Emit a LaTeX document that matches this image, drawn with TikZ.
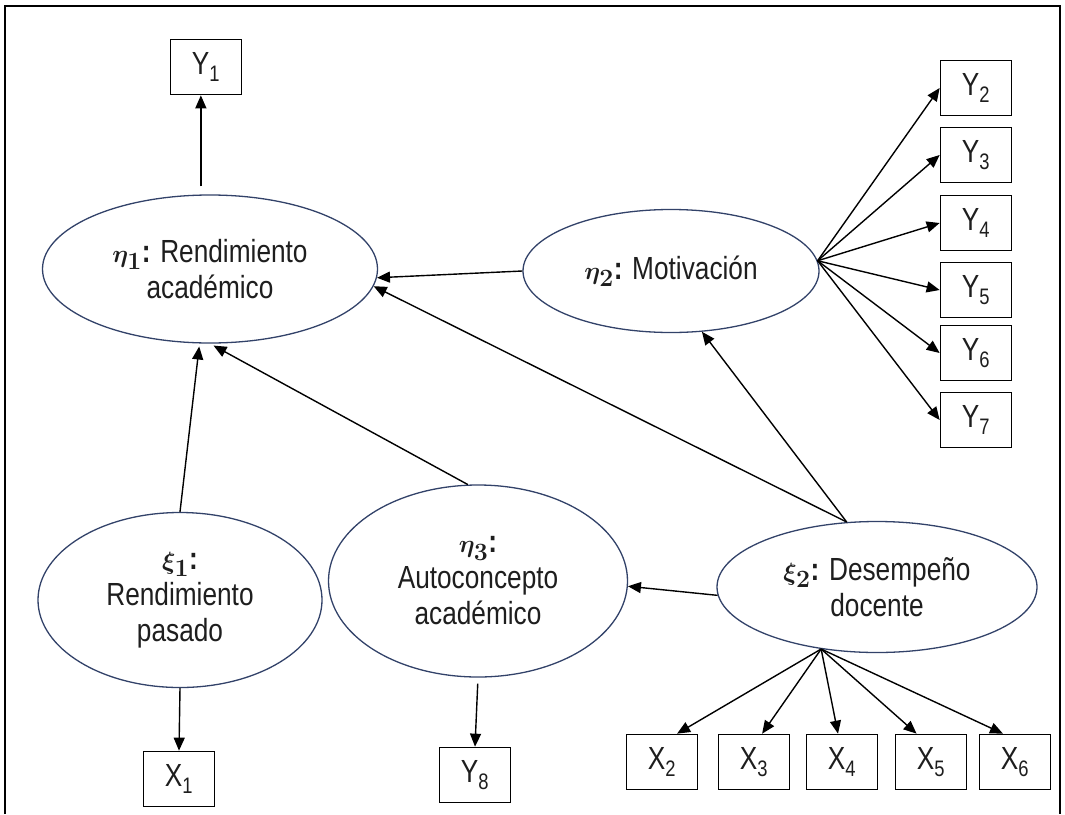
\documentclass[tikz,border=0pt]{standalone}
\usepackage{fontspec}
\setmainfont{Liberation Sans}[FakeStretch=0.82]
\usepackage{amsmath,bm}
\usetikzlibrary{shapes.geometric,arrows.meta}
\definecolor{ellline}{RGB}{50,66,105}
\definecolor{labtext}{RGB}{30,30,30}
\newcommand{\lvar}[2]{{\fontsize{38}{36}\selectfont$\bm{#1_{#2}}$}\textbf{:}}

\begin{document}
\begin{tikzpicture}[x=1pt,y=-1pt,
  font=\fontsize{32}{36}\selectfont,
  latent/.style={draw=ellline,line width=1.3pt,ellipse,inner sep=0pt,align=center,text=labtext},
  obs/.style={draw,line width=1.7pt,rectangle,minimum width=71pt,minimum height=55pt,inner sep=0pt,text=labtext},
  arr/.style={-{Triangle[length=13pt,width=11pt]},line width=1.4pt}]
\useasboundingbox (0,0) rectangle (1065,814);
\draw[line width=1.4pt] (5,814) -- (5,6) -- (1060,6) -- (1060,814);
% latent variables
\node[latent,minimum width=335pt,minimum height=148pt] (eta1) at (210,269) {\lvar{\eta}{1} Rendimiento\\acad\'emico};
\node[latent,minimum width=296pt,minimum height=123pt] (eta2) at (671,271) {\lvar{\eta}{2} Motivaci\'on};
\node[latent,minimum width=284pt,minimum height=175pt] (xi1) at (180,600) {\lvar{\xi}{1}\\Rendimiento\\pasado};
\node[latent,minimum width=299pt,minimum height=192pt] (eta3) at (478,581) {\lvar{\eta}{3}\\Autoconcepto\\acad\'emico};
\node[latent,minimum width=320pt,minimum height=131pt] (xi2) at (877,587) {\lvar{\xi}{2} Desempe\~no\\docente};
% indicators
\node[obs] (y1) at (206,67) {Y\textsubscript{1}};
\node[obs] (x1) at (179,779) {X\textsubscript{1}};
\node[obs] (y8) at (475,775) {Y\textsubscript{8}};
\foreach \i/\yy in {2/88,3/155,4/223,5/290,6/353,7/420}
  \node[obs] (y\i) at (976,\yy) {Y\textsubscript{\i}};
\foreach \i/\xx in {2/662,3/754,4/842,5/931,6/1015}
  \node[obs] (x\i) at (\xx,762) {X\textsubscript{\i}};
% structural paths
\draw[arr] (eta2.west) -- (eta1.-3);
\draw[arr] (xi2.115) -- (eta1.-6);
\draw[arr] (xi2.115) -- (eta2.-63);
\draw[arr] (xi2.183) -- (eta3.-2);
\draw[arr,shorten >=3pt] (xi1.north) -- (eta1.262);
\draw[arr,shorten >=4pt] (eta3.96) -- (eta1.270);
% measurement paths
\draw[arr,shorten <=8pt] (eta1.97) -- (eta1.97 |- y1.south);
\draw[arr] (xi1.south) -- (x1.north);
\draw[arr,shorten <=6pt] (eta3.south) -- (y8.north);
\foreach \i in {2,...,7}
  \draw[arr] (eta2.4) -- (y\i.west);
\foreach \i/\a in {2/62,3/74,4/98,5/117,6/113}
  \draw[arr] (xi2.228) -- (x\i.\a);
\end{tikzpicture}
\end{document}
